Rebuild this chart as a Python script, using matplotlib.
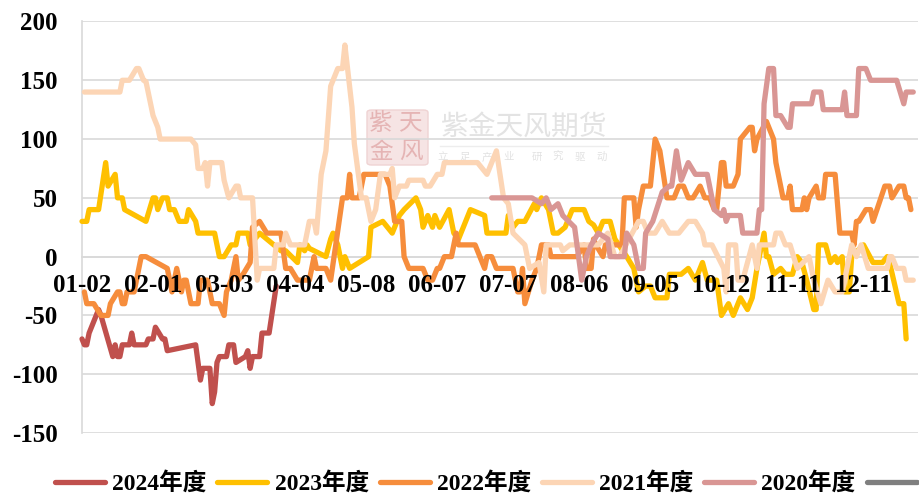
import matplotlib
matplotlib.use("Agg")
import matplotlib.pyplot as plt
from matplotlib.lines import Line2D
from matplotlib.patches import FancyBboxPatch

plt.rcParams["font.family"] = ["Liberation Serif", "Noto Sans CJK SC"]
plt.rcParams["font.weight"] = "bold"
plt.rcParams["axes.unicode_minus"] = False

# Data. x is the position along the daily category axis
tick_pos = [0, 30, 60, 90, 120, 150, 180, 210, 240, 270, 300, 330]
tick_labels = ["01-02", "02-01", "03-03", "04-04", "05-08", "06-07",
               "07-07", "08-06", "09-05", "10-12", "11-11", "12-11"]
y_ticks = [-150, -100, -50, 0, 50, 100, 150, 200]

x_2024 = [0, 1, 2, 3, 7, 8, 13, 14, 15, 16, 17, 20, 21, 22, 27, 28, 30, 31, 34, 35, 36, 48, 50, 51, 54, 55, 56,
          57, 58, 61, 62, 64, 65, 69, 70, 71, 72, 75, 76, 79, 82]
y_2024 = [-70, -75, -75, -65, -45, -50, -85, -75, -85, -85, -75, -75, -65, -75, -75, -70, -70, -60, -70, -70, -80, -75, -105, -95, -95, -125, -115,
          -90, -85, -85, -75, -75, -90, -85, -80, -95, -85, -85, -65, -65, -25]

x_2023 = [0, 2, 3, 7, 10, 11, 14, 15, 17, 18, 27, 30, 31, 32, 34, 36, 37, 39, 41, 44, 45, 48, 49, 56, 58, 60, 63, 65, 66, 70, 71,
          75, 84, 86, 91, 92, 94, 95, 96, 103, 105, 106, 108, 110, 111, 113, 121, 122, 127, 131, 134, 136, 141, 143, 144, 146, 148, 149,
          151, 155, 157, 159, 162, 164, 170, 171, 179, 180, 182, 184, 187, 191, 192, 194, 197, 199, 201, 204, 207, 212, 214, 216, 218, 220, 222,
          223, 225, 230, 233, 235, 238, 240, 242, 247, 248, 253, 256, 259, 262, 264, 268, 270, 273, 275, 278, 281, 283, 285, 288, 289, 290,
          292, 295, 297, 300, 302, 304, 306, 309, 310, 311, 314, 316, 318, 319, 321, 322, 324, 325, 330, 334, 338, 340, 341, 345, 347, 348]
y_2023 = [30, 30, 40, 40, 80, 60, 70, 50, 50, 40, 30, 50, 50, 40, 50, 50, 40, 40, 30, 30, 40, 30, 20, 20, 0, 0, 10, 10, 20, 20, 10,
          20, 5, 5, -5, 10, 5, 10, 7, 0, 15, 20, 10, -10, 0, -10, 0, 25, 30, 20, 35, 40, 50, 40, 25, 35, 25, 35,
          25, 40, 20, 15, 30, 40, 35, 20, 20, 35, 25, 30, 30, 45, 40, 50, 40, 20, 20, 25, 40, 40, 30, 27, 20, 30, 30,
          30, 15, 0, -10, -30, -25, -25, -35, -35, -15, -15, -10, -20, -5, -20, -20, -50, -40, -50, -35, -45, -35, -10, 20, 0, 0,
          -15, -10, -15, -15, 0, -5, -20, -45, -45, 10, 10, -5, 0, -5, 0, -30, -30, 0, 10, -5, -5, 0, -5, -40, -40, -70]

x_2022 = [1, 2, 5, 8, 11, 12, 15, 16, 17, 18, 19, 22, 25, 27, 36, 38, 40, 41, 42, 43, 44, 46, 49, 50, 53, 55, 58, 60, 61, 63, 65, 66, 68, 71, 72, 75, 78, 84, 86, 88, 91,
          96, 98, 99, 103, 105, 110, 112, 113, 114, 117, 119, 128, 130, 132, 135, 136, 138, 144, 146, 148, 150, 151, 153, 156, 158, 159, 166, 168, 170, 171, 173, 175, 182, 184, 185, 186, 187, 190, 192, 194, 197, 198, 209, 212, 213, 215, 216, 217, 220, 221,
          226, 228, 229, 233, 234, 235, 237, 240, 242, 244, 247, 250, 252, 254, 256, 258, 261, 263, 265, 267, 268, 270, 271, 272, 275, 277, 278, 282, 283, 284, 285, 289, 292, 293, 296, 298, 299, 300, 304, 305, 306, 307, 310, 311, 313, 314, 318, 320, 325, 326, 327, 328, 331, 333, 334, 339, 341, 342, 345, 347, 348, 349, 350]
y_2022 = [-30, -40, -40, -50, -50, -40, -30, -30, -40, -40, -30, -30, 0, 0, -10, -30, -10, -20, -30, -20, -20, -40, -40, -20, -20, -40, -40, -50, -30, -20, 0, -20, -15, -5, 25, 30, 20, 20, -10, -10, -20,
          -20, 0, -10, -10, -20, 50, 50, 70, 50, 50, 70, 70, 60, 30, 30, 0, -10, -10, -20, -20, -10, -10, 0, 0, 20, 10, 10, 0, -10, 0, 0, -10, -10, -30, -30, -10, -40, -20, -10, 10, 10, 0, 0, 10, -10, -10, 15, 10, 0, 10,
          10, 10, 50, 50, 25, 40, 60, 60, 100, 90, 50, 50, 60, 60, 50, 50, 60, 50, 50, 40, 40, 80, 80, 60, 60, 70, 100, 110, 110, 90, 100, 115, 100, 80, 50, 50, 60, 40, 40, 50, 40, 50, 60, 50, 50, 70, 70, 20, 20, 10, 30, 30, 40, 40, 30, 60, 60, 50, 60, 60, 50, 50, 40]

x_2021 = [1, 16, 17, 20, 23, 24, 26, 27, 30, 32, 33, 46, 48, 49, 51, 52, 53, 54, 59, 60, 62, 65, 66, 67, 72, 74, 75, 81, 82, 85, 86, 88, 94,
          96, 98, 99, 101, 103, 105, 108, 110, 111, 114, 115, 118, 120, 122, 124, 126, 130, 131, 132, 134, 137, 138, 144, 145, 147, 150, 152, 153, 167, 171, 173, 175, 178, 180, 182, 187, 189, 193, 195, 196, 202, 203, 206, 218, 222,
          225, 227, 231, 235, 237, 239, 242, 245, 248, 252, 256, 259, 262, 263, 266, 271, 272, 273, 276, 277, 279, 283, 285, 286, 292, 293, 295, 297, 299, 302, 307, 309, 312, 315, 318, 321, 325, 327, 329, 332, 340, 341, 342, 344, 347, 348, 351]
y_2021 = [140, 140, 150, 150, 160, 160, 150, 149, 120, 110, 100, 100, 95, 75, 75, 80, 60, 80, 80, 65, 50, 60, 60, 50, 50, -20, -10, -10, 10, 10, 20, 10, 10,
          30, 30, 20, 70, 90, 145, 160, 160, 180, 127, 96, 50, 50, 30, 40, 70, 70, 75, 50, 60, 60, 65, 65, 60, 60, 70, 70, 80, 80, 70, 80, 90, 50, 45, 20, 10, -10, -5, -30, 10, 10, 5, 10, 10, 20,
          0, 0, 15, 30, 30, 20, 20, 30, 20, 20, 30, 30, 20, 10, 10, -10, -30, 10, 10, -20, -20, 10, -10, 10, 10, 20, 20, 10, 10, -10, 0, -20, -40, -20, -30, -30, 10, 0, 10, -10, -10, 0, 0, -10, -10, -20, -20]

x_2020 = [173, 190, 194, 196, 198, 201, 203, 208, 211, 213, 215, 218, 222, 223, 227, 229, 230, 233, 235, 237, 238, 241, 245, 248, 249, 251, 253, 256, 259, 264, 267, 270, 271, 272, 273, 278, 279, 285, 286, 287, 288, 290, 292, 293, 295, 298, 299, 300, 308, 309, 312, 313, 321, 322, 323, 327, 328, 331, 333, 344, 347, 348, 351]
y_2020 = [50, 50, 45, 50, 40, 45, 35, 25, -20, 0, 10, 20, 15, 0, 0, 0, 20, 10, -10, -10, 20, 30, 55, 60, 60, 90, 65, 80, 70, 70, 40, 35, 40, 30, 35, 35, 20, 20, 40, 40, 130, 160, 160, 120, 120, 110, 110, 130, 130, 140, 140, 125, 125, 140, 120, 120, 160, 160, 150, 150, 130, 140, 140]

series_names = ["2024年度", "2023年度", "2022年度", "2021年度", "2020年度"]
colors = ["#C0504D", "#FFC000", "#F68D3C", "#FCD5B5", "#D99694"]
grid_color = "#D9D9D9"

W, H = 919, 494
fig = plt.figure(figsize=(W / 100, H / 100), dpi=100)
ax = fig.add_axes([82 / W, 1 - 433 / H, (918 - 82) / W, (433 - 21.5) / H])

all_x = [x_2024, x_2023, x_2022, x_2021, x_2020]
all_y = [y_2024, y_2023, y_2022, y_2021, y_2020]
handles = []
for xs, ys, name, c in zip(all_x, all_y, series_names, colors):
    line, = ax.plot(xs, ys, color=c, lw=3.8, label=name, solid_joinstyle="round",
                    solid_capstyle="round", zorder=3, clip_on=False)
    handles.append(line)
# last legend entry is cut off by the edge of the picture
handles.append(Line2D([], [], color="#7F7F7F", lw=3.8, solid_capstyle="round"))

ax.set_xlim(0, 353)
ax.set_ylim(-150, 200)
ax.set_xticks(tick_pos, tick_labels)
ax.set_yticks(y_ticks)
ax.tick_params(length=0, labelsize=18)
ax.tick_params(axis="x", pad=12.5)
ax.tick_params(axis="y", pad=17.5)
ax.grid(axis="y", color=grid_color, lw=1.2)
ax.set_axisbelow(True)
ax.xaxis.set_zorder(5)

for s in ["top", "right"]:
    ax.spines[s].set_visible(False)
ax.spines["left"].set_color(grid_color)
ax.spines["left"].set_linewidth(1.2)
ax.spines["left"].set_zorder(1)
ax.spines["bottom"].set_position(("data", 0))
ax.spines["bottom"].set_color(grid_color)
ax.spines["bottom"].set_linewidth(1.2)
ax.spines["bottom"].set_zorder(1)
ax.patch.set_alpha(0)

# watermark, sits under the axes
stamp = FancyBboxPatch((367 / W, 1 - 165 / H), 61 / W, 55 / H, boxstyle="round,pad=0,rounding_size=0.005",
                       transform=fig.transFigure, fc="#F6E4E4", ec="#EFD3D3", lw=1, zorder=-2)
fig.add_artist(stamp)
wm = dict(ha="center", va="center", fontweight="normal", family=["Noto Sans CJK SC"], zorder=-1)
for ch, px, py in [("紫", 381, 123), ("天", 411, 123), ("金", 381, 152), ("风", 411, 152)]:
    fig.text(px / W, 1 - py / H, ch, color="#E5B4B4", fontsize=17, **wm)
fig.text(524 / W, 1 - 127 / H, "紫金天风期货", color="#E3E3E3", fontsize=20, **wm)
fig.add_artist(Line2D([440 / W, 608 / W], [1 - 146 / H, 1 - 146 / H], color="#EDEDED", lw=1, zorder=-1))
for ch, px in zip("立足产业研究驱动", [443, 465, 487, 509, 537, 558, 580, 602]):
    fig.text(px / W, 1 - 157 / H, ch, color="#E2E2E2", fontsize=7.5, **wm)

fig.legend(handles=handles, labels=series_names + [""], loc="lower left", ncols=6,
           bbox_to_anchor=(55 / W, 1 - 495 / H), frameon=False, fontsize=17,
           handlelength=2.12, handletextpad=0.3, columnspacing=0.46,
           borderpad=0, borderaxespad=0)

fig.savefig("out.png", dpi=100)
plt.close(fig)
